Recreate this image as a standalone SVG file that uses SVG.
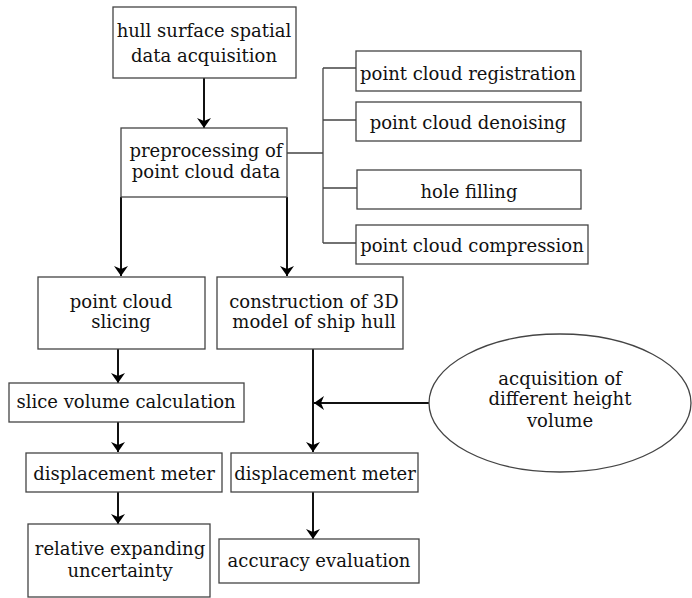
<svg xmlns="http://www.w3.org/2000/svg" width="692" height="598" viewBox="0 0 692 598">
<defs>
<marker id="ah" viewBox="0 0 10 20" refX="10" refY="10" markerWidth="5" markerHeight="10" markerUnits="strokeWidth" orient="auto">
<path d="M0,3 L10,10 L0,17 L3,10 Z" fill="#000"/>
</marker>
<style>
.b{fill:#fff;stroke:#444;stroke-width:1.3}
.t{font-family:"DejaVu Serif","Liberation Serif",serif;font-size:18px;fill:#111;text-anchor:middle}
.a{stroke:#111;stroke-width:2;fill:none;marker-end:url(#ah)}
.l{stroke:#444;stroke-width:1.3;fill:none}
</style>
</defs>
<rect width="692" height="598" fill="#fff"/>
<g id="connectors">
<path class="a" d="M204,78 V128"/>
<path class="a" d="M121,197 V276"/>
<path class="a" d="M287,197 V276"/>
<path class="l" d="M287,153 H323 M323,68 V243 M323,68 H356 M323,120 H356 M323,188 H357 M323,243 H356"/>
<path class="a" d="M118,349 V383"/>
<path class="a" d="M313,349 V452"/>
<path class="a" d="M429,403 H314"/>
<path class="a" d="M118,422 V452"/>
<path class="a" d="M118,492 V524"/>
<path class="a" d="M313,492 V539"/>
</g>
<g id="n1"><rect class="b" x="113" y="7" width="183" height="71"/><text class="t" x="204" y="37">hull surface spatial</text><text class="t" x="204" y="62">data acquisition</text></g>
<g id="n2"><rect class="b" x="121" y="128" width="166" height="69"/><text class="t" x="206" y="157">preprocessing of</text><text class="t" x="206" y="178">point cloud data</text></g>
<g id="n3"><rect class="b" x="356" y="51" width="225" height="40"/><text class="t" x="468" y="80">point cloud registration</text></g>
<g id="n4"><rect class="b" x="356" y="102" width="225" height="39"/><text class="t" x="468" y="129">point cloud denoising</text></g>
<g id="n5"><rect class="b" x="357" y="170" width="224" height="39"/><text class="t" x="469" y="198">hole filling</text></g>
<g id="n6"><rect class="b" x="356" y="225" width="232" height="39"/><text class="t" x="472" y="252">point cloud compression</text></g>
<g id="n7"><rect class="b" x="38" y="277" width="167" height="72"/><text class="t" x="121" y="308">point cloud</text><text class="t" x="121" y="328">slicing</text></g>
<g id="n8"><rect class="b" x="217" y="277" width="186" height="72"/><text class="t" x="314" y="308">construction of 3D</text><text class="t" x="314" y="328">model of ship hull</text></g>
<g id="n9"><rect class="b" x="9" y="383" width="235" height="39"/><text class="t" x="126" y="408">slice volume calculation</text></g>
<g id="n10"><ellipse class="b" cx="560" cy="403" rx="131" ry="69"/><text class="t" x="560" y="385">acquisition of</text><text class="t" x="560" y="405">different height</text><text class="t" x="560" y="427">volume</text></g>
<g id="n11"><rect class="b" x="26" y="453" width="196" height="39"/><text class="t" x="124" y="480">displacement meter</text></g>
<g id="n12"><rect class="b" x="231" y="453" width="187" height="39"/><text class="t" x="325" y="480">displacement meter</text></g>
<g id="n13"><rect class="b" x="28" y="524" width="182" height="73"/><text class="t" x="120" y="555">relative expanding</text><text class="t" x="120" y="577">uncertainty</text></g>
<g id="n14"><rect class="b" x="219" y="539" width="200" height="44"/><text class="t" x="319" y="567">accuracy evaluation</text></g>
</svg>
